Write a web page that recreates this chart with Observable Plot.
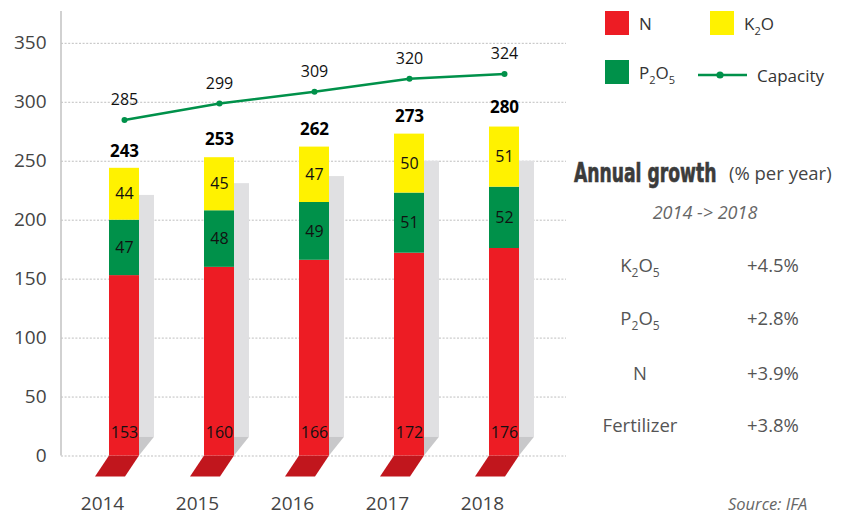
<!DOCTYPE html>
<html>
<head>
<meta charset="utf-8">
<script src="https://cdn.jsdelivr.net/npm/d3@7"></script>
<script src="https://cdn.jsdelivr.net/npm/@observablehq/plot@0.6"></script>
<style>
  html, body { margin: 0; padding: 0; background: #fff; }
  #wrap { position: relative; width: 846px; height: 514px; overflow: hidden; font-family: "Open Sans", sans-serif; }
  #chart, #panel { position: absolute; left: 0; top: 0; }
  #panel { pointer-events: none; }
</style>
</head>
<body>
<div id="wrap">
  <div id="chart"></div>
  <svg id="panel" width="846" height="514"></svg>
</div>
<script>
// Fertilizer demand by nutrient (million tonnes) and production capacity
const years = ["2014", "2015", "2016", "2017", "2018"];
const nitrogen = [153, 160, 166, 172, 176];
const phosphate = [47, 48, 49, 51, 52];
const potash = [44, 45, 47, 50, 51];
const totals = [243, 253, 262, 273, 280];
const capacity = [285, 299, 309, 320, 324];
const shadowTops = [221, 231, 237, 250, 250];
const yTicks = [0, 50, 100, 150, 200, 250, 300, 350];

const nutrients = ["N", "P2O5", "K2O"];
const nutrientColors = ["#ed1c24", "#00914a", "#fff200"];
const capacityColor = "#00914a";

const growthTitle = "Annual growth";
const growthUnit = "(% per year)";
const growthPeriod = "2014 -> 2018";
const growthNames = ["K_2O_5", "P_2O_5", "N", "Fertilizer"];
const growthRates = ["+4.5%", "+2.8%", "+3.9%", "+3.8%"];
const sourceNote = "Source: IFA";

// Long table for the stacked bars
const series = {N: nitrogen, P2O5: phosphate, K2O: potash};
const rows = nutrients.flatMap((n) => years.map((year, i) => ({year, nutrient: n, value: series[n][i]})));
const totalRows = years.map((year, i) => ({year, total: totals[i]}));
const capRows = years.map((year, i) => ({year, capacity: capacity[i]}));

const chart = Plot.plot({
  width: 846,
  height: 514,
  marginLeft: 61,
  marginRight: 280,
  marginTop: 11,
  marginBottom: 58.5,
  style: {fontFamily: "'Open Sans', sans-serif", background: "transparent", overflow: "visible"},
  x: {type: "band", domain: years, paddingInner: 0.687, paddingOuter: 0.48, label: null},
  y: {domain: [0, 377], label: null},
  color: {domain: nutrients, range: nutrientColors},
  marks: [
    Plot.gridY(yTicks, {stroke: "#b8b8b8", strokeOpacity: 1, strokeWidth: 0.9, strokeDasharray: "2,1.6"}),
    Plot.axisY(yTicks, {tickSize: 0, tickPadding: 15, fontSize: 19, color: "#444", label: null}),
    Plot.axisX({tickSize: 0, tickPadding: 40, dx: -22, fontSize: 19, color: "#444", label: null}),
    Plot.barY(rows, {x: "year", y: "value", fill: "nutrient"}),
    // segment values for P2O5 and K2O, centred in their segments
    Plot.text(rows, Plot.stackY({
      x: "year", y: "value",
      text: (d) => d.nutrient === "N" ? "" : d.value,
      fontSize: 16, fill: "#111"
    })),
    // N values sit near the foot of each bar
    Plot.text(rows.filter((d) => d.nutrient === "N"), {
      x: "year", y: () => 0, text: "value", dy: -23, fontSize: 16, fill: "#111"
    }),
    Plot.text(totalRows, {x: "year", y: "total", text: "total", dy: -18, fontSize: 17, fontWeight: "bold", fill: "#000"}),
    Plot.line(capRows, {x: "year", y: "capacity", stroke: capacityColor, strokeWidth: 2.5}),
    Plot.dot(capRows, {x: "year", y: "capacity", r: 3, fill: capacityColor}),
    Plot.text(capRows, {x: "year", y: "capacity", text: "capacity", dy: -20, fontSize: 16, fill: "#111"})
  ]
});
document.getElementById("chart").append(chart);

// Pseudo-3D depth: side shadows and floor plates, placed with the chart's scales
(function addDepth() {
  const sx = chart.scale("x"), sy = chart.scale("y");
  const bw = sx.bandwidth;
  const y0 = sy.apply(0);
  const side = bw / 2;
  const drop = side * 1.25;
  const floorH = 21, floorShift = 14;
  const layer = d3.create("svg:g").attr("aria-label", "depth");
  years.forEach((year, i) => {
    const left = sx.apply(year), right = left + bw;
    const top = sy.apply(shadowTops[i]);
    layer.append("rect")
      .attr("x", right).attr("y", top)
      .attr("width", side).attr("height", Math.max(0, y0 - drop - top))
      .attr("fill", "#e0e0e2");
    layer.append("path")
      .attr("d", `M${right},${y0 - drop}H${right + side}L${right},${y0}Z`)
      .attr("fill", "#c8c8ca");
    layer.append("path")
      .attr("d", `M${left},${y0}H${right}L${right - floorShift},${y0 + floorH}H${left - floorShift}Z`)
      .attr("fill", "#c1161d");
  });
  // vertical axis line
  layer.append("line")
    .attr("x1", 61).attr("x2", 61)
    .attr("y1", sy.apply(377)).attr("y2", y0)
    .attr("stroke", "#c6c6c6").attr("stroke-width", 1.6);
  const firstBar = chart.querySelector('g[aria-label="bar"]');
  firstBar.parentNode.insertBefore(layer.node(), firstBar);
})();

// Legend and growth table
(function addPanel() {
  const svg = d3.select("#panel").style("font-family", "'Open Sans', sans-serif");

  function rich(sel, str, subSize, shift) {
    const chars = [...str];
    let lowered = false;
    for (let k = 0; k < chars.length; k++) {
      if (chars[k] === "_") {
        sel.append("tspan").attr("font-size", subSize).attr("dy", lowered ? 0 : shift).text(chars[++k]);
        lowered = true;
      } else {
        sel.append("tspan").attr("dy", lowered ? -shift : 0).text(chars[k]);
        lowered = false;
      }
    }
    return sel;
  }

  const legend = svg.append("g").attr("fill", "#333").attr("font-size", 17);
  const swatches = [
    {name: "N", color: nutrientColors[0], x: 605, y: 11},
    {name: "K_2O", color: nutrientColors[2], x: 710, y: 11},
    {name: "P_2O_5", color: nutrientColors[1], x: 605, y: 60}
  ];
  swatches.forEach((s) => {
    legend.append("rect").attr("x", s.x).attr("y", s.y).attr("width", 24).attr("height", 24).attr("fill", s.color);
    rich(legend.append("text").attr("x", s.x + 34).attr("y", s.y + 19), s.name, 11, 5);
  });
  legend.append("line").attr("x1", 698).attr("x2", 747).attr("y1", 75).attr("y2", 75)
    .attr("stroke", capacityColor).attr("stroke-width", 2.5);
  legend.append("circle").attr("cx", 720).attr("cy", 75).attr("r", 3.6).attr("fill", capacityColor);
  legend.append("text").attr("x", 757).attr("y", 82).text("Capacity");

  // heavy condensed heading: a bold condensed face squeezed horizontally
  svg.append("text")
    .attr("transform", "translate(574,182) scale(0.765,1.08)")
    .attr("font-family", "'DejaVu Sans Condensed', 'Liberation Sans Narrow', sans-serif")
    .attr("font-weight", "bold").attr("font-size", 25)
    .attr("fill", "#3b3b3b").attr("stroke", "#3b3b3b").attr("stroke-width", 0.6)
    .text(growthTitle);
  svg.append("text").attr("x", 729).attr("y", 180).attr("font-size", 18.5).attr("fill", "#444")
    .text(growthUnit);
  svg.append("text").attr("x", 705).attr("y", 219).attr("text-anchor", "middle")
    .attr("font-size", 18).attr("font-style", "italic").attr("fill", "#666")
    .text(growthPeriod);

  const rowBaselines = [272, 325, 380, 432];
  growthNames.forEach((name, i) => {
    rich(svg.append("text").attr("x", 640).attr("y", rowBaselines[i]).attr("text-anchor", "middle")
      .attr("font-size", 18.5).attr("fill", "#555"), name, 12, 5);
    svg.append("text").attr("x", 747).attr("y", rowBaselines[i])
      .attr("font-size", 18.5).attr("fill", "#555").text(growthRates[i]);
  });

  svg.append("text").attr("x", 728).attr("y", 510)
    .attr("font-size", 16.5).attr("font-style", "italic").attr("fill", "#666")
    .text(sourceNote);
})();
</script>
</body>
</html>
